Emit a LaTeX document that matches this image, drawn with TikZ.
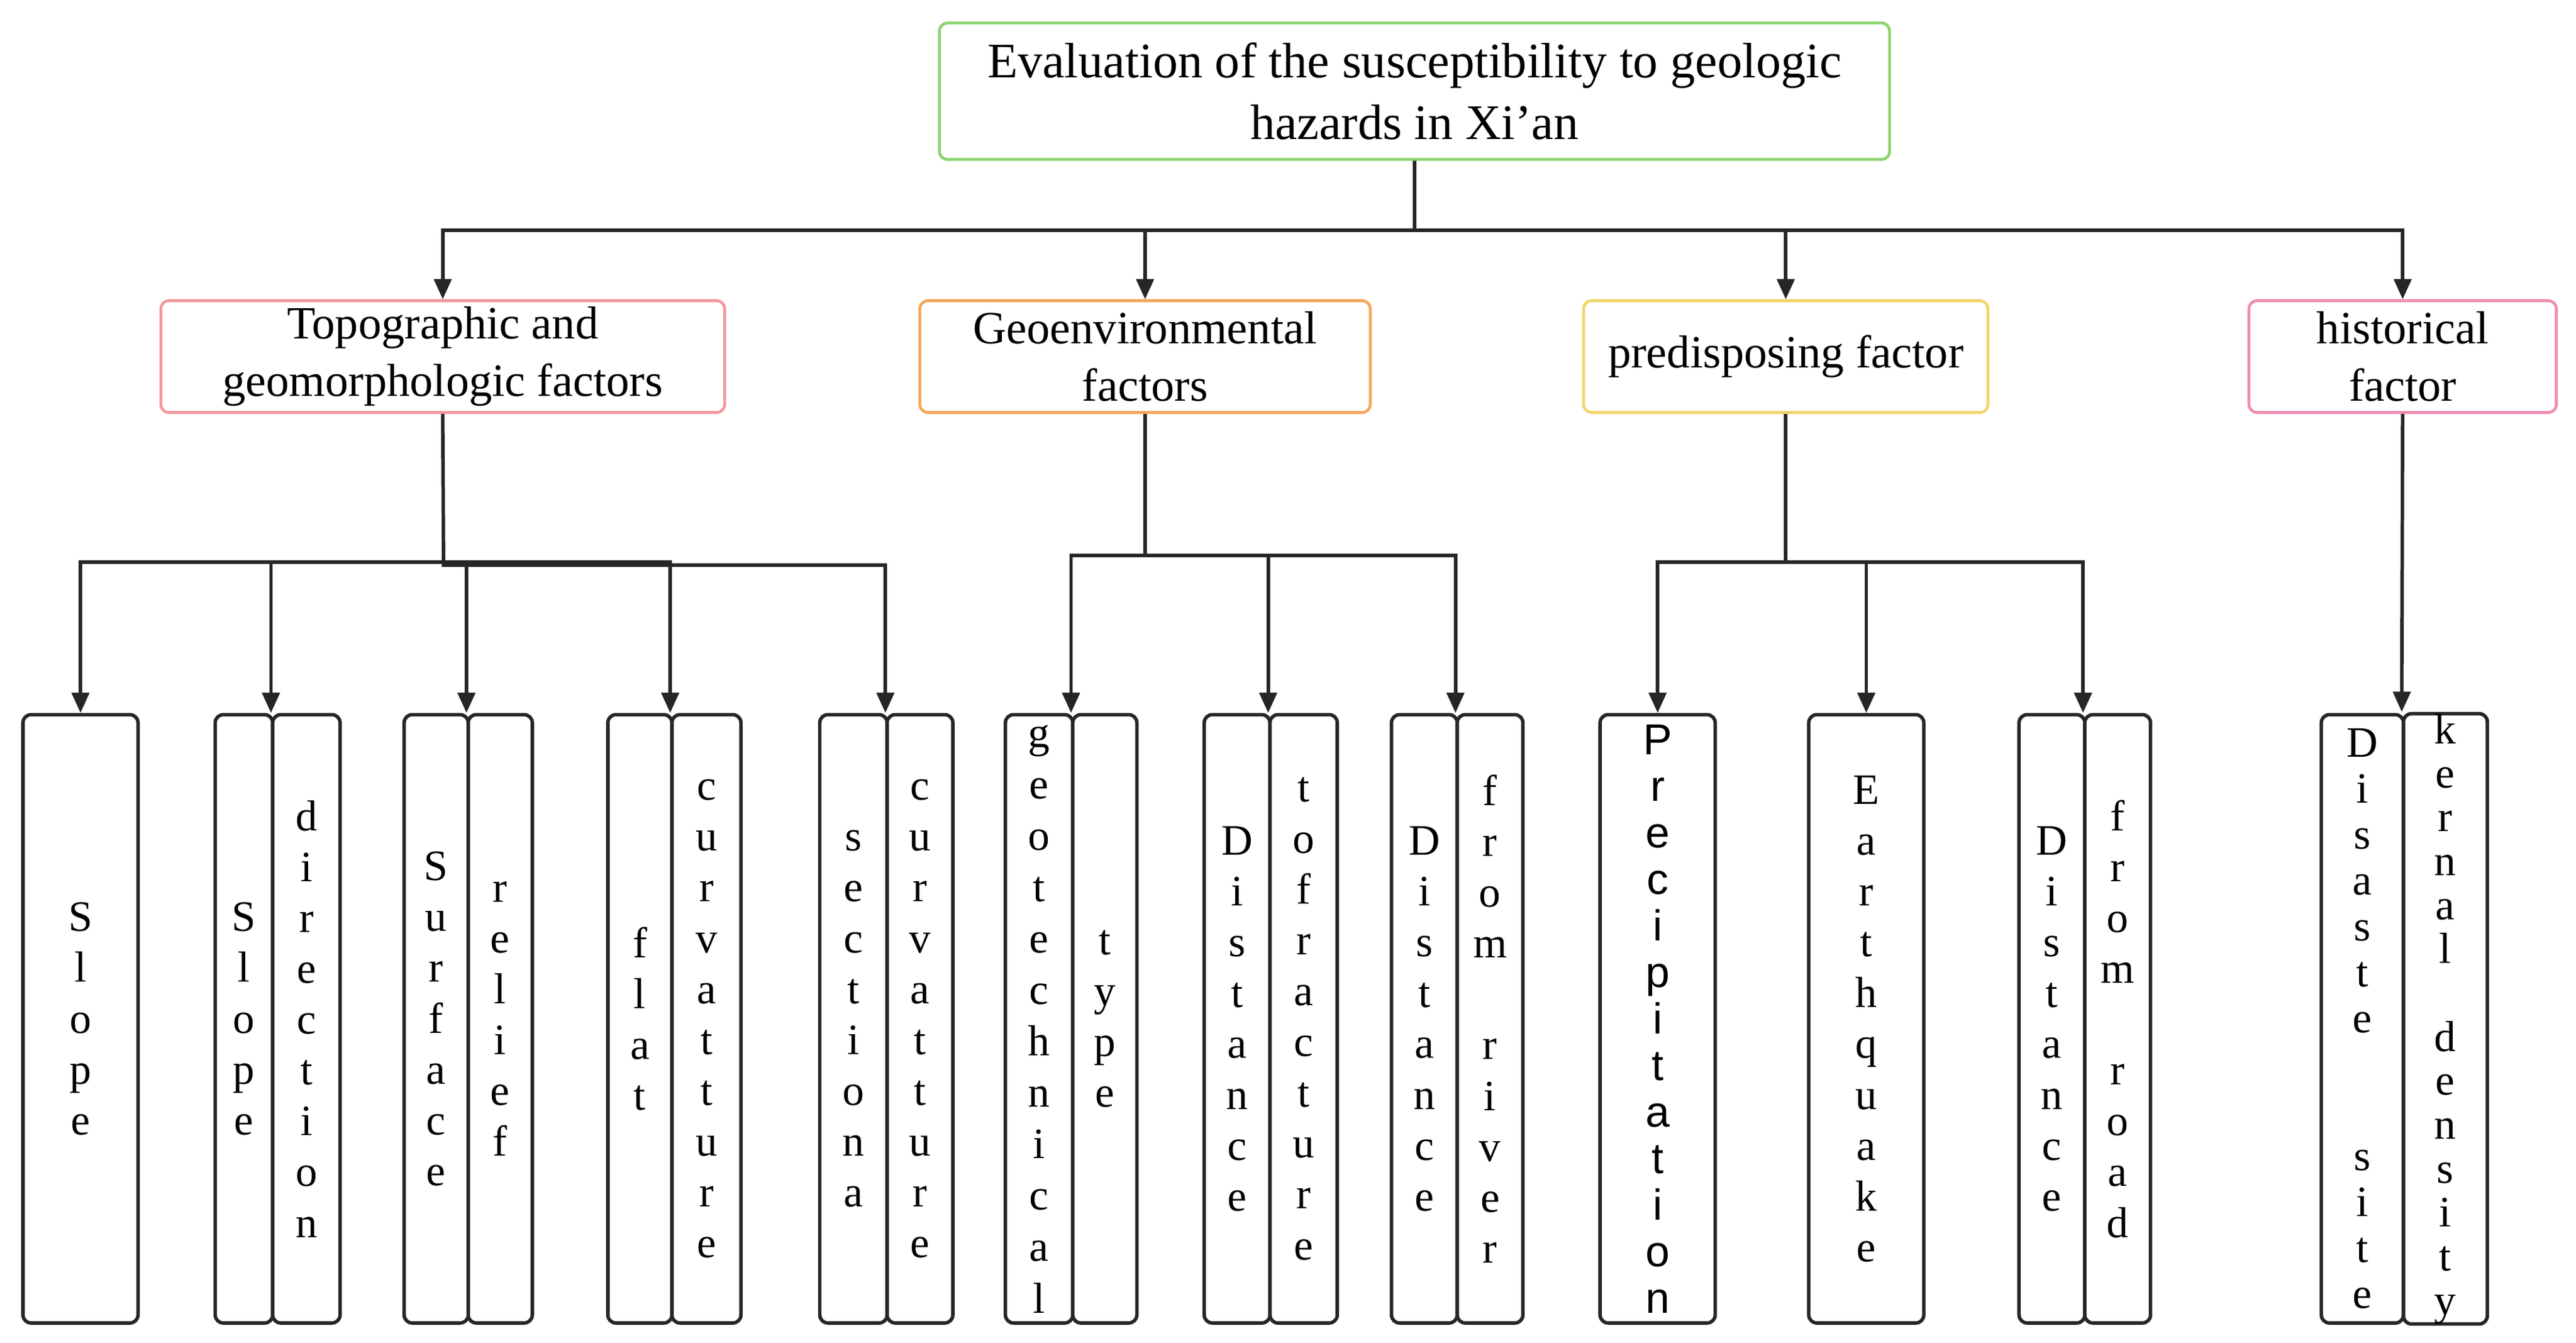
\documentclass[tikz,border=0pt]{standalone}
\usepackage{fontspec}
\setmainfont{Liberation Serif}
\newfontfamily\sansf{Liberation Sans}
\usetikzlibrary{arrows.meta}
\definecolor{cgreen}{HTML}{8BD46E}
\definecolor{cred}{HTML}{F4979F}
\definecolor{corange}{HTML}{F5A65B}
\definecolor{cyellow}{HTML}{F2D66B}
\definecolor{cpink}{HTML}{F08CB4}
\begin{document}
\begin{tikzpicture}[x=0.01cm,y=-0.01cm,
  head/.style={draw=#1,line width=0.5pt,rounded corners=1.4pt,align=center,inner sep=0pt},
  leaf/.style={draw=black!85,line width=0.6pt,rounded corners=1.4pt,align=center,inner sep=0pt,
    minimum height=3.7cm,font=\fontsize{7.5}{8.8}\selectfont},
  conn/.style={draw=black!85,line width=0.6pt},
  arr/.style={conn,-{Triangle[length=3.5pt,width=3pt]}}]
\useasboundingbox (0,0) rectangle (1568,817);
% top
\node[head=cgreen,minimum width=5.78cm,minimum height=0.83cm,font=\fontsize{8.6}{10.6}\selectfont]
  (top) at (861,55.5) {Evaluation of the susceptibility to geologic\\hazards in Xi'an};
% level 2
\begin{scope}[every node/.append style={minimum height=0.68cm,font=\fontsize{8}{9.9}\selectfont}]
\node[head=cred,minimum width=3.43cm] (topo) at (269.5,217) {Topographic and\\geomorphologic factors};
\node[head=corange,minimum width=2.74cm] (geo) at (697,217) {Geoenvironmental\\factors};
\node[head=cyellow,minimum width=2.46cm] (pre) at (1087,217) {predisposing factor};
\node[head=cpink,minimum width=1.87cm] (his) at (1462.5,217) {historical\\factor};
\end{scope}
\coordinate (jt) at (861,140);
\draw[conn] (top) -- (jt);
\draw[arr] (jt) -| (topo.north);
\draw[arr] (jt) -| (geo.north);
\draw[arr] (jt) -| (pre.north);
\draw[arr] (jt) -| (his.north);
% leaves: topographic
\node[leaf,minimum width=0.70cm] (a1) at (49,620) {S\\l\\o\\p\\e};
\node[leaf,minimum width=0.35cm] (b1) at (148.5,620) {S\\l\\o\\p\\e};
\node[leaf,minimum width=0.41cm] (b2) at (186.5,620) {d\\i\\r\\e\\c\\t\\i\\o\\n};
\node[leaf,minimum width=0.39cm] (c1) at (265.5,620) {S\\u\\r\\f\\a\\c\\e};
\node[leaf,minimum width=0.39cm] (c2) at (304.5,620) {r\\e\\l\\i\\e\\f};
\node[leaf,minimum width=0.39cm] (d1) at (389.5,620) {f\\l\\a\\t};
\node[leaf,minimum width=0.42cm] (d2) at (430,620) {c\\u\\r\\v\\a\\t\\t\\u\\r\\e};
\node[leaf,minimum width=0.41cm] (e1) at (519.5,620) {s\\e\\c\\t\\i\\o\\n\\a};
\node[leaf,minimum width=0.40cm] (e2) at (560,620) {c\\u\\r\\v\\a\\t\\t\\u\\r\\e};
\coordinate (j1) at (270,342);
\coordinate (j1b) at (409,344);
\draw[conn] (topo.south) -- (j1);
\draw[arr] (j1) -| (a1.north);
\draw[arr] (j1) -| (b2.north west);
\draw[arr] (j1) -| (c2.north west);
\draw[arr] (j1) -| (d2.north west);
\draw[conn] (j1) |- (j1b);
\draw[arr] (j1b) -| (e2.north west);
% leaves: geoenvironmental
\node[leaf,minimum width=0.41cm,font=\fontsize{7.5}{8.9}\selectfont] (f1) at (632.5,620) {g\\e\\o\\t\\e\\c\\h\\n\\i\\c\\a\\l};
\node[leaf,minimum width=0.39cm] (f2) at (672.5,620) {t\\y\\p\\e};
\node[leaf,minimum width=0.40cm] (g1) at (753,620) {D\\i\\s\\t\\a\\n\\c\\e};
\node[leaf,minimum width=0.41cm] (g2) at (793.5,620) {t\\o\\f\\r\\a\\c\\t\\u\\r\\e};
\node[leaf,minimum width=0.40cm] (h1) at (867,620) {D\\i\\s\\t\\a\\n\\c\\e};
\node[leaf,minimum width=0.40cm] (h2) at (907,620) {f\\r\\o\\m\\\mbox{}\\r\\i\\v\\e\\r};
\coordinate (j2) at (697,338);
\draw[conn] (geo.south) -- (j2);
\draw[arr] (j2) -| (f2.north west);
\draw[arr] (j2) -| (g2.north west);
\draw[arr] (j2) -| (h2.north west);
% leaves: predisposing
\node[leaf,minimum width=0.70cm,font=\sansf\fontsize{7.5}{8.05}\selectfont] (k1) at (1009,620) {P\\r\\e\\c\\i\\p\\i\\t\\a\\t\\i\\o\\n};
\node[leaf,minimum width=0.70cm] (l1) at (1136,620) {E\\a\\r\\t\\h\\q\\u\\a\\k\\e};
\node[leaf,minimum width=0.40cm] (m1) at (1249,620) {D\\i\\s\\t\\a\\n\\c\\e};
\node[leaf,minimum width=0.40cm] (m2) at (1289,620) {f\\r\\o\\m\\\mbox{}\\r\\o\\a\\d};
\coordinate (j3) at (1087,342);
\draw[conn] (pre.south) -- (j3);
\draw[arr] (j3) -| (k1.north);
\draw[arr] (j3) -| (l1.north);
\draw[arr] (j3) -| (m2.north west);
% leaves: historical
\node[leaf,minimum width=0.50cm,font=\fontsize{7.5}{7.95}\selectfont] (n1) at (1438,620) {D\\i\\s\\a\\s\\t\\e\\\mbox{}\\\mbox{}\\s\\i\\t\\e};
\node[leaf,minimum width=0.51cm,font=\fontsize{7.5}{7.6}\selectfont] (n2) at (1488.5,620) {k\\e\\r\\n\\a\\l\\\mbox{}\\d\\e\\n\\s\\i\\t\\y};
\draw[arr] (his.south) -- (n2.north west);
\end{tikzpicture}
\end{document}
